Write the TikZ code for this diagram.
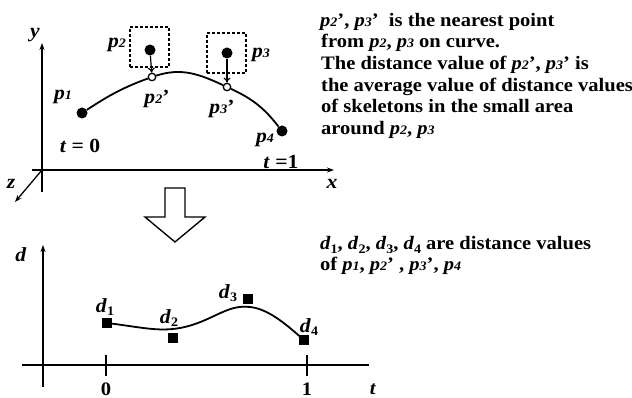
\documentclass[tikz,border=0pt]{standalone}
\usepackage{fontspec}
\setmainfont{Liberation Serif}[FakeStretch=1.08]
\usetikzlibrary{arrows.meta}
\newcommand\pl[1]{\textit{p}{\fontsize{13}{13}\selectfont\itshape #1}}
\newcommand\dl[1]{\textit{d}\raisebox{-0.35ex}{\fontsize{13}{13}\selectfont #1}}
\begin{document}
\begin{tikzpicture}[x=1pt,y=1pt,
  every node/.style={font=\bfseries\fontsize{19}{21}\selectfont, inner sep=0pt},
  biglab/.style={font=\bfseries\fontsize{20}{22}\selectfont},
  axis/.style={line width=1.3pt},
  axarrow/.style={axis, -{Stealth[length=7pt,width=5pt]}},
  curveline/.style={line width=1.8pt},
  fulldot/.style={circle, fill=black, minimum size=11pt},
  opendot/.style={circle, draw=black, fill=white, line width=1.3pt, minimum size=7.5pt},
  sqmark/.style={rectangle, fill=black, minimum size=10pt},
  areabox/.style={draw, line width=1.2pt, dash pattern=on 3pt off 2pt, minimum width=39pt, minimum height=40pt},
  proj/.style={line width=1.2pt, -{To[length=5pt,width=7pt]}},
  txt/.style={anchor=base west}
]
\useasboundingbox (0,0) rectangle (632,-398);

% ---------- top 3D axes ----------
\coordinate (o) at (42,-170);
\coordinate (ybot) at (42,-192);
\coordinate (ytop) at (42,-43);
\coordinate (xl) at (32,-170);
\coordinate (xr) at (334,-170);
\coordinate (zend) at (15,-202);
\draw[axarrow] (ybot) -- (ytop);
\draw[axarrow] (xl) -- (xr);
\draw[axarrow] (o) -- (zend);
\node[biglab] (ylab) at (35,-35) {\textit{y}};
\node[biglab] (xlab) at (332,-184) {\textit{x}};
\node[biglab] (zlab) at (11,-184) {\textit{z}};

% ---------- dashed areas ----------
\node[areabox] (box2) at (149.5,-47) {};
\node[areabox] (box3) at (226.5,-53) {};

% ---------- curve and points ----------
\node[opendot] (p2c) at (152,-77) {};
\node[opendot] (p3c) at (227,-87) {};
\node[fulldot] (p1) at (82,-113) {};
\node[fulldot] (p4) at (282,-131) {};
\node[fulldot] (p2) at (150,-50) {};
\node[fulldot] (p3) at (227,-53) {};
\draw[curveline] (p1) to[out=33,in=200] (p2c);
\draw[curveline] (p2c) to[out=18,in=155] (p3c);
\draw[curveline] (p3c) to[out=-25,in=128] (p4);
\draw[proj] (p2) -- (p2c);
\draw[proj] (p3) -- (p3c);

\node[biglab] (p1lab) at (63,-97) {\pl{1}};
\node[biglab] (p2lab) at (117,-45) {\pl{2}};
\node[biglab] (p3lab) at (261,-55) {\pl{3}};
\node[biglab] (p2clab) at (157,-99) {\pl{2}'};
\node[biglab] (p3clab) at (222,-109) {\pl{3}'};
\node[biglab] (p4lab) at (265,-140) {\pl{4}};
\node[biglab] (t0) at (80,-146) {\textit{t} = 0};
\node[biglab] (t1) at (281,-162) {\textit{t} =1};

% ---------- hollow arrow ----------
\draw[line width=1.4pt, fill=white]
  (165,-188) -- (185,-188) -- (185,-217) -- (205,-217) -- (175,-242)
  -- (145,-217) -- (165,-217) -- cycle;

% ---------- bottom graph ----------
\coordinate (dbot) at (43,-387);
\coordinate (dtop) at (43,-245);
\coordinate (tl) at (22,-365);
\coordinate (tr) at (369,-365);
\draw[axarrow] (dbot) -- (dtop);
\draw[axis] (tl) -- (tr);
\node[biglab] (dlab) at (21,-255) {\textit{d}};
\node (tlab) at (373,-389) {\textit{t}};
\coordinate (k0a) at (106,-355);
\coordinate (k0b) at (106,-376);
\coordinate (k1a) at (307,-355);
\coordinate (k1b) at (307,-376);
\draw[line width=1.8pt] (k0a) -- (k0b);
\draw[line width=1.8pt] (k1a) -- (k1b);
\node (zero) at (106,-389) {0};
\node (one) at (307,-389) {1};

\node[sqmark] (d1) at (107,-323) {};
\node[sqmark] (d2) at (173,-338) {};
\node[sqmark] (d3) at (248,-299) {};
\node[sqmark] (d4) at (304,-340) {};
\draw[curveline] (d1.center) .. controls (140,-327) and (158,-332) .. (180,-328)
  .. controls (212,-322) and (226,-304) .. (250,-307)
  .. controls (270,-309) and (290,-328) .. (d4.center);
\node[sqmark] at (d1) {};
\node[sqmark] at (d4) {};
\node[biglab] (d1lab) at (105,-307) {\dl{1}};
\node[biglab] (d2lab) at (169,-318) {\dl{2}};
\node[biglab] (d3lab) at (228,-293) {\dl{3}};
\node[biglab] (d4lab) at (309,-327) {\dl{4}};

% ---------- explanatory text ----------
\node[txt] (l1) at (320,-27) {\pl{2}', \pl{3}'\ \ is the nearest point};
\node[txt] (l2) at (321,-48) {from \pl{2}, \pl{3} on curve.};
\node[txt] (l3) at (321,-70) {The distance value of \pl{2}', \pl{3}' is};
\node[txt] (l4) at (321,-92) {the average value of distance values};
\node[txt] (l5) at (321,-113) {of skeletons in the small area};
\node[txt] (l6) at (321,-135) {around \pl{2}, \pl{3}};
\node[txt] (m1) at (320,-250) {\dl{1}, \dl{2}, \dl{3}, \dl{4} are distance values};
\node[txt] (m2) at (320,-271) {of \pl{1}, \pl{2}' , \pl{3}', \pl{4}};
\end{tikzpicture}
\end{document}
